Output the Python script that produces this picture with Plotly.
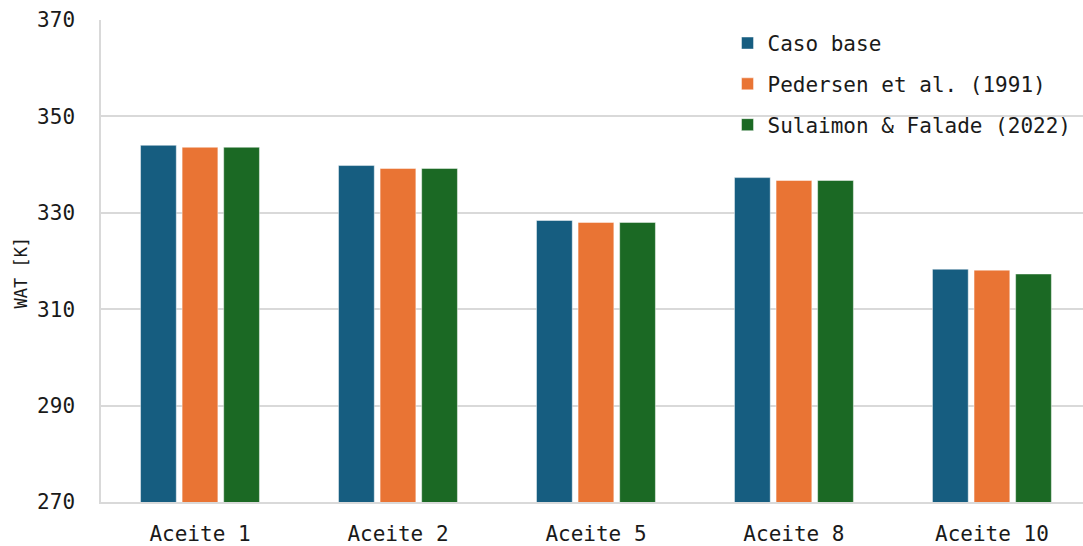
import plotly.graph_objects as go

categories = ["Aceite 1", "Aceite 2", "Aceite 5", "Aceite 8", "Aceite 10"]
caso_base = [344.0, 339.8, 328.4, 337.3, 318.3]
pedersen = [343.6, 339.2, 328.0, 336.7, 318.1]
sulaimon = [343.6, 339.2, 328.0, 336.7, 317.3]
series_names = ["Caso base", "Pedersen et al. (1991)", "Sulaimon & Falade (2022)"]
colors = ["#165d80", "#e97434", "#1b6924"]
y_ticks = [270, 290, 310, 330, 350, 370]

FONT = "DejaVu Sans Mono, Liberation Mono, monospace"
GRID = "#d9d9d9"

fig = go.Figure()
for name, vals, col in zip(series_names, [caso_base, pedersen, sulaimon], colors):
    fig.add_trace(go.Bar(
        x=categories, y=vals, name=name, legendgroup=name,
        marker=dict(color=col, line=dict(color="rgba(255,255,255,0.45)", width=1)),
    ))

# vertical axis title, centred on the full figure height
fig.add_annotation(
    text="WAT [K]", textangle=-90, xref="paper", yref="paper",
    x=-0.081, y=0.477, xanchor="center", yanchor="middle", showarrow=False,
    font=dict(family=FONT, size=17, color="#1a1a1a"),
)

fig.update_layout(
    width=1083, height=546,
    margin=dict(l=101, r=0, t=20, b=42),
    paper_bgcolor="white", plot_bgcolor="white",
    font=dict(family=FONT, size=21, color="#1a1a1a"),
    barmode="group", bargap=0.37, bargroupgap=0.14,
    showlegend=True,
    legend=dict(
        x=0.638, xanchor="left", y=0.994, yanchor="top",
        bgcolor="rgba(0,0,0,0)", font=dict(family=FONT, size=21),
        traceorder="grouped", tracegroupgap=10.5,
    ),
    xaxis=dict(
        range=[-0.5, 4.46], showgrid=False, showline=True, linecolor=GRID,
        linewidth=1.5, ticks="", ticklabelstandoff=12,
        tickfont=dict(family=FONT, size=21),
    ),
    yaxis=dict(
        range=[270, 370], tickvals=y_ticks, showgrid=True, gridcolor=GRID,
        gridwidth=1.5, showline=True, linecolor=GRID, linewidth=1.5,
        zeroline=False, ticks="", ticklabelstandoff=20,
        tickfont=dict(family=FONT, size=21),
    ),
)

fig.write_html("out.html")
